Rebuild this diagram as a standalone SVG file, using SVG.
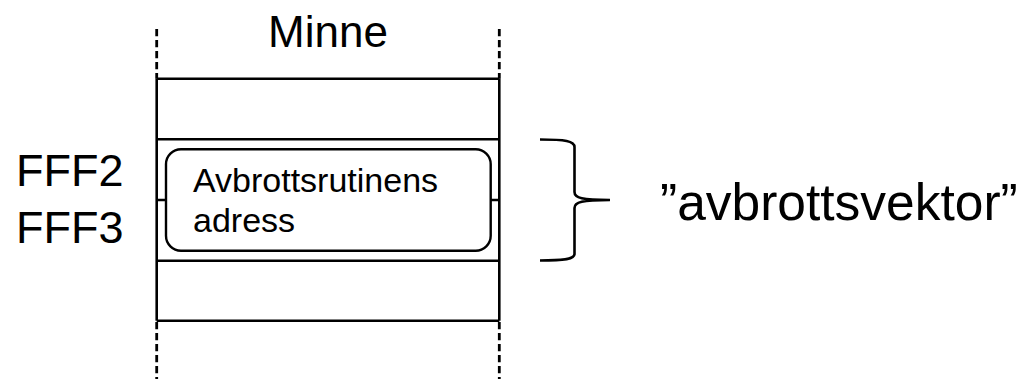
<svg xmlns="http://www.w3.org/2000/svg" width="1032" height="379" viewBox="0 0 1032 379">
<style>
.ln{stroke:#000;stroke-width:2.6;fill:none}
.dash{stroke:#000;stroke-width:2.8;fill:none;stroke-dasharray:7.3 3.7}
.t{font-family:"Liberation Sans",Arial,sans-serif;fill:#000}
</style>
<rect width="1032" height="379" fill="#fff"/>
<g id="memory">
<line class="dash" x1="156.7" y1="29" x2="156.7" y2="78.7"/>
<line class="dash" x1="499.3" y1="29" x2="499.3" y2="78.7"/>
<line class="dash" x1="156.7" y1="322" x2="156.7" y2="379"/>
<line class="dash" x1="499.3" y1="322" x2="499.3" y2="379"/>
<line class="ln" x1="156.7" y1="78.7" x2="156.7" y2="320.7"/>
<line class="ln" x1="499.3" y1="78.7" x2="499.3" y2="320.7"/>
<line class="ln" x1="156.7" y1="78.7" x2="499.3" y2="78.7"/>
<line class="ln" x1="156.7" y1="139.3" x2="499.3" y2="139.3"/>
<line class="ln" x1="156.7" y1="200" x2="499.3" y2="200"/>
<line class="ln" x1="156.7" y1="260.7" x2="499.3" y2="260.7"/>
<line class="ln" x1="156.7" y1="320.7" x2="499.3" y2="320.7"/>
<text class="t" x="328" y="46.7" font-size="44" text-anchor="middle">Minne</text>
</g>
<g id="vector-cell">
<rect x="166" y="149.3" width="324.7" height="101.4" rx="15" ry="15" fill="#fff" stroke="#000" stroke-width="2.4"/>
<text class="t" x="193" y="191.7" font-size="34">Avbrottsrutinens</text>
<text class="t" x="193" y="232.3" font-size="34">adress</text>
</g>
<g id="addresses">
<text class="t" x="16" y="186" font-size="45">FFF2</text>
<text class="t" x="16" y="243" font-size="45">FFF3</text>
</g>
<g id="connectors">
<path class="ln" stroke-width="2.8" d="M540,139.5 C565,139.5 574.5,141 574.5,147 L574.5,192 C574.5,198 582,200 610,200 C582,200 574.5,202 574.5,208 L574.5,254 C574.5,259 565,260.5 540,260.5"/>
</g>
<g id="label">
<text class="t" x="660" y="220" font-size="51.5">”avbrottsvektor”</text>
</g>
</svg>
